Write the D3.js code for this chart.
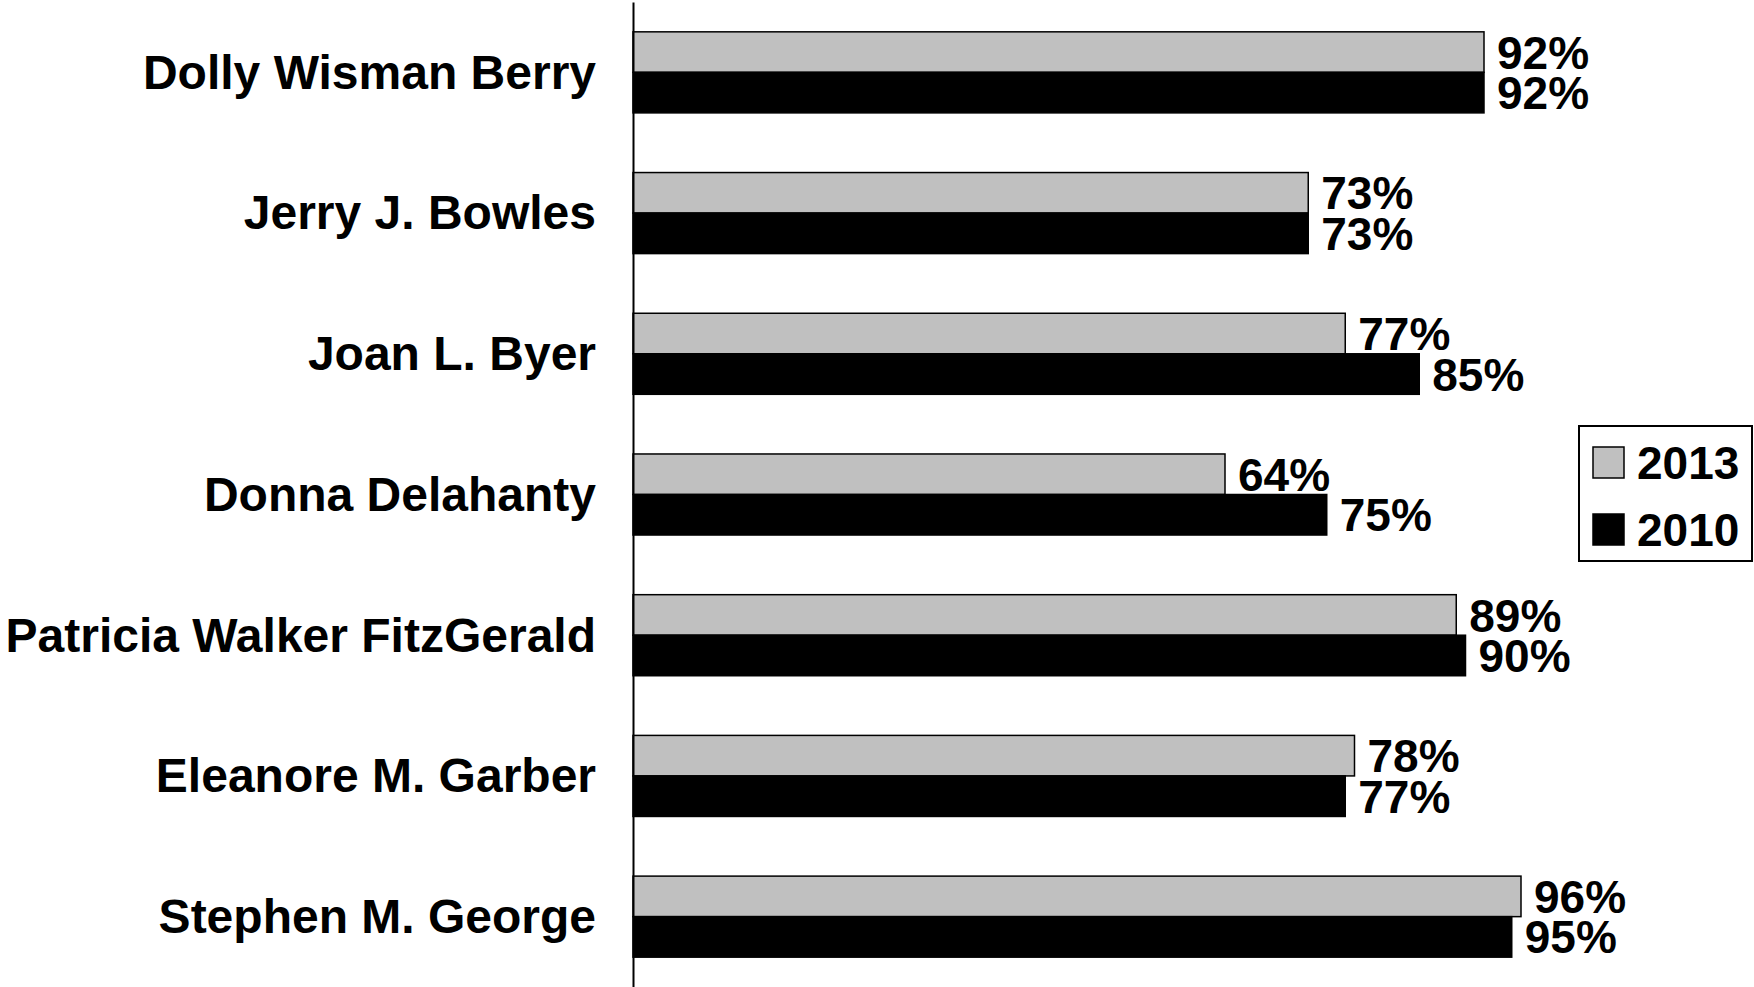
<!DOCTYPE html>
<html>
<head>
<meta charset="utf-8">
<script src="https://cdn.jsdelivr.net/npm/d3@7"></script>
<style>
  body { margin: 0; background: #fff; }
  svg text { font-family: "Liberation Sans", Arial, sans-serif; font-weight: bold; fill: #000; }
</style>
</head>
<body>
<div id="chart"></div>
<script>
// data
var names = ["Dolly Wisman Berry", "Jerry J. Bowles", "Joan L. Byer", "Donna Delahanty",
  "Patricia Walker FitzGerald", "Eleanore M. Garber", "Stephen M. George"];
var years = ["2013", "2010"];
var values2013 = [92, 73, 77, 64, 89, 78, 96];
var values2010 = [92, 73, 85, 75, 90, 77, 95];
var colors = ["#c0c0c0", "#000000"];

var width = 1754, height = 987;
var axisX = 633;

var svg = d3.select("#chart").append("svg")
  .attr("width", width)
  .attr("height", height);

var x = d3.scaleLinear().domain([0, 100]).range([axisX, 1558]);
var y = d3.scaleBand().domain(names).range([2, 987])
  .paddingInner(0.424).paddingOuter(0.212);
var ySub = d3.scaleBand().domain(years).range([0, y.bandwidth()]);

var rows = names.map(function (n, i) {
  return { name: n, vals: [values2013[i], values2010[i]] };
});

var group = svg.selectAll("g.row").data(rows).enter().append("g")
  .attr("class", "row")
  .attr("transform", function (d) { return "translate(0," + y(d.name) + ")"; });

group.selectAll("rect").data(function (d) {
  return years.map(function (yr, k) { return { year: yr, v: d.vals[k], c: colors[k] }; });
}).enter().append("rect")
  .attr("x", x(0))
  .attr("y", function (d) { return ySub(d.year); })
  .attr("width", function (d) { return x(d.v) - x(0); })
  .attr("height", ySub.bandwidth())
  .style("fill", function (d) { return d.c; })
  .style("stroke", "#000")
  .style("stroke-width", 1.5);

group.selectAll("text.val").data(function (d) {
  return years.map(function (yr, k) { return { year: yr, v: d.vals[k] }; });
}).enter().append("text")
  .attr("class", "val")
  .attr("x", function (d) { return x(d.v) + 13; })
  .attr("y", function (d) { return ySub(d.year) + ySub.bandwidth() / 2; })
  .attr("dy", "0.36em")
  .style("font-size", "46px")
  .text(function (d) { return d.v + "%"; });

// category axis
var yAxis = svg.append("g")
  .attr("transform", "translate(" + axisX + ",0)")
  .call(d3.axisLeft(y).tickSize(0).tickSizeOuter(0).tickPadding(37));
yAxis.select(".domain").style("stroke", "#000").style("stroke-width", 2);
yAxis.selectAll(".tick text")
  .style("font-size", "48px")
  .style("font-family", "'Liberation Sans', Arial, sans-serif")
  .style("font-weight", "bold")
  .attr("dy", "0.34em");

// legend
var legend = svg.append("g").attr("transform", "translate(1579,426)");
legend.append("rect")
  .attr("width", 173).attr("height", 135)
  .style("fill", "#fff").style("stroke", "#000").style("stroke-width", 2);
years.forEach(function (yr, k) {
  var row = legend.append("g").attr("transform", "translate(14," + (21 + k * 67) + ")");
  row.append("rect").attr("width", 31).attr("height", 31)
    .style("fill", colors[k]).style("stroke", "#000").style("stroke-width", 1.5);
  row.append("text").attr("x", 44).attr("y", 15.5).attr("dy", "0.36em")
    .style("font-size", "46px").text(yr);
});
</script>
</body>
</html>
